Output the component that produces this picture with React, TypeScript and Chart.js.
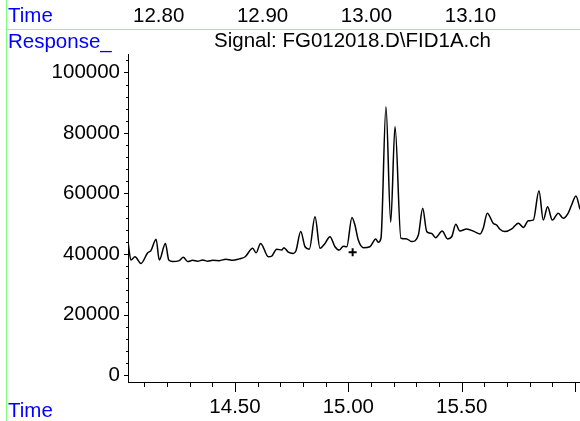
import React, { useEffect, useRef } from "react";
import { Chart, registerables } from "chart.js";

Chart.register(...registerables);

// Retention time (min) and detector response of the FID trace
const times = [
  14.028, 14.041, 14.059, 14.085, 14.115, 14.129, 14.152, 14.166, 14.193, 14.208,
  14.225, 14.254, 14.272, 14.291, 14.313, 14.335, 14.358, 14.38, 14.402, 14.431,
  14.46, 14.49, 14.519, 14.545, 14.578, 14.593, 14.613, 14.647, 14.662, 14.684,
  14.706, 14.716, 14.735, 14.757, 14.769, 14.79, 14.809, 14.828, 14.853, 14.875,
  14.897, 14.919, 14.941, 14.96, 14.978, 14.993, 15.016, 15.029, 15.044, 15.066,
  15.095, 15.121, 15.132, 15.144, 15.166, 15.187, 15.206, 15.232, 15.257, 15.28,
  15.309, 15.328, 15.346, 15.368, 15.385, 15.414, 15.438, 15.456, 15.474, 15.492,
  15.522, 15.556, 15.581, 15.595, 15.613, 15.639, 15.654, 15.669, 15.691, 15.721,
  15.75, 15.772, 15.794, 15.816, 15.841, 15.86, 15.879, 15.9, 15.926, 15.948,
  15.97, 15.985, 16.004, 16.022,
];
const responses = [
  44000, 38000, 39100, 36900, 40400, 41100, 44900, 38000, 43500, 38000,
  37500, 37800, 38900, 37500, 37900, 37600, 38000, 37600, 37900, 37800,
  38300, 37900, 38400, 39100, 41900, 40400, 43500, 39100, 39300, 41600,
  41300, 42100, 40600, 40200, 41100, 47400, 42400, 41600, 52300, 41900,
  43500, 45700, 42400, 41300, 42600, 42400, 52100, 49600, 44600, 42100,
  42400, 45000, 43900, 45200, 88700, 50500, 82100, 45200, 45000, 44100,
  46300, 55100, 47400, 46800, 45400, 47600, 45000, 45700, 49800, 47600,
  48300, 47400, 46600, 48500, 53500, 50200, 49600, 48200, 47400, 48300,
  50200, 48800, 51000, 51200, 60900, 51200, 55600, 51200, 53500, 51800,
  53500, 56200, 59200, 54800,
];

// Baseline event marker ("+")
const markerTimes = [15.019];
const markerResponses = [40600];

// Axis ticks
const yMajorTicks = [0, 20000, 40000, 60000, 80000, 100000];
const yMinorStep = 4000;
const xMajorLabels = ["14.50", "15.00", "15.50", "16.00"];
const xMinorStep = 0.1;
const headerTimeLabels = ["12.80", "12.90", "13.00", "13.10"];

const FONT = '"Liberation Sans", Arial, sans-serif';
const FS = 20.5;

const decorPlugin = {
  id: "decor",
  afterDraw(chart: any) {
    const ctx = chart.ctx as CanvasRenderingContext2D;
    const area = chart.chartArea;
    const xs = chart.scales.x;
    const ys = chart.scales.y;
    const top = chart.scales.xTop;
    ctx.save();

    // green frame lines
    ctx.strokeStyle = "#80ff80";
    ctx.lineWidth = 1;
    ctx.beginPath();
    ctx.moveTo(6.5, 0);
    ctx.lineTo(6.5, chart.height);
    ctx.moveTo(6.5, 29.5);
    ctx.lineTo(chart.width, 29.5);
    ctx.stroke();

    // tick marks
    ctx.strokeStyle = "#000";
    ctx.lineWidth = 1;
    ctx.beginPath();
    ys.ticks.forEach((t: any) => {
      const p = Math.round(ys.getPixelForValue(t.value)) + 0.5;
      const major = yMajorTicks.includes(t.value);
      const len = major ? 4 : 2;
      ctx.moveTo(area.left - len, p);
      ctx.lineTo(area.left, p);
    });
    xs.ticks.forEach((t: any) => {
      const p = Math.round(xs.getPixelForValue(t.value)) + 0.5;
      const major = xMajorLabels.includes(t.value.toFixed(2));
      const len = major ? 10 : 5;
      ctx.moveTo(p, area.bottom);
      ctx.lineTo(p, area.bottom + len);
    });
    ctx.stroke();

    // header texts
    ctx.font = `${FS}px ${FONT}`;
    ctx.textBaseline = "alphabetic";
    ctx.textAlign = "left";
    ctx.fillStyle = "#0000ff";
    ctx.fillText("Time", 8, 22);
    ctx.fillText("Response_", 8, 48);
    ctx.fillText("Time", 8, 417);

    ctx.fillStyle = "#000";
    ctx.textAlign = "center";
    headerTimeLabels.forEach((l) => {
      ctx.fillText(l, top.getPixelForValue(parseFloat(l)), 22);
    });
    ctx.fillText("Signal: FG012018.D\\FID1A.ch", (area.left + area.right) / 2 - 1.5, 47);
    ctx.restore();
  },
};

export default function App() {
  const ref = useRef<HTMLCanvasElement | null>(null);

  useEffect(() => {
    if (!ref.current) return;
    const data = times.map((t, i) => ({ x: t, y: responses[i] }));
    const marker = markerTimes.map((t, i) => ({ x: t, y: markerResponses[i] }));

    const chart = new Chart(ref.current, {
      type: "line",
      data: {
        datasets: [
          {
            data,
            borderColor: "#000",
            borderWidth: 1.5,
            pointRadius: 0,
            cubicInterpolationMode: "monotone",
            fill: false,
          },
          {
            data: marker,
            showLine: false,
            pointStyle: "cross",
            pointRadius: 4,
            pointBorderWidth: 2,
            pointBorderColor: "#000",
            borderColor: "#000",
          },
        ],
      } as any,
      options: {
        responsive: false,
        animation: false,
        layout: { autoPadding: false, padding: { top: 54, left: 0, right: 0, bottom: 0 } },
        plugins: {
          legend: { display: false },
          tooltip: { enabled: false },
          title: { display: false },
        },
        scales: {
          x: {
            type: "linear",
            position: "bottom",
            min: 14.028,
            max: 16.022,
            afterBuildTicks: (s: any) => {
              const out: any[] = [];
              for (let v = 14.1; v <= 16.0001; v += xMinorStep) {
                out.push({ value: Math.round(v * 10) / 10 });
              }
              s.ticks = out;
            },
            afterFit: (s: any) => {
              s.height = 39;
              s.paddingLeft = 0;
              s.paddingRight = 0;
            },
            grid: { display: false, drawTicks: false },
            border: { display: true, color: "#000", width: 1 },
            ticks: {
              autoSkip: false,
              maxRotation: 0,
              padding: 13,
              color: "#000",
              font: { family: FONT, size: FS },
              callback: (v: any) => {
                const s = Number(v).toFixed(2);
                return xMajorLabels.includes(s) && Number(v) < 15.95 ? s : "";
              },
            },
          },
          xTop: {
            type: "linear",
            axis: "x",
            position: "top",
            display: false,
            min: 12.7705,
            max: 13.2055,
          },
          y: {
            type: "linear",
            min: -2300,
            max: 106100,
            afterBuildTicks: (s: any) => {
              const out: any[] = [];
              for (let v = 0; v <= 104000; v += yMinorStep) out.push({ value: v });
              s.ticks = out;
            },
            afterFit: (s: any) => {
              s.width = 128;
              s.paddingTop = 0;
              s.paddingBottom = 0;
            },
            grid: { display: false, drawTicks: false },
            border: { display: true, color: "#000", width: 1 },
            ticks: {
              autoSkip: false,
              padding: 8,
              color: "#000",
              font: { family: FONT, size: FS },
              callback: (v: any) => (yMajorTicks.includes(Number(v)) ? String(v) : ""),
            },
          },
        },
      } as any,
      plugins: [decorPlugin],
    });
    return () => chart.destroy();
  }, []);

  return (
    <div style={{ position: "absolute", left: 0, top: 0, width: 580, height: 421, background: "#fff" }}>
      <canvas ref={ref} width={580} height={421} />
    </div>
  );
}
